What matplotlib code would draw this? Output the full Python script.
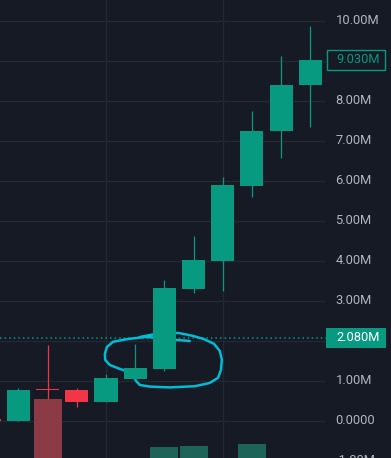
import matplotlib
matplotlib.use("Agg")
import matplotlib.pyplot as plt
from matplotlib.patches import Rectangle
from matplotlib.transforms import blended_transform_factory

# candle data, prices in millions (first one is cut off at the left edge)
idx = [-1, 0, 1, 2, 3, 4, 5, 6, 7, 8, 9, 10]
opens = [0.04, 0.0, 0.78, 0.775, 0.475, 1.05, 1.30, 3.30, 4.00, 5.875, 7.25, 8.39]
highs = [0.06, 0.825, 1.90, 0.83, 1.175, 1.925, 3.525, 4.625, 6.10, 7.75, 9.125, 9.875]
lows = [-0.02, 0.0, 0.30, 0.36, 0.475, 1.05, 1.25, 3.20, 3.25, 5.61, 6.58, 7.36]
closes = [0.0, 0.775, 0.765, 0.475, 1.075, 1.325, 3.325, 4.025, 5.90, 7.25, 8.40, 9.03]
volumes = [2.0, 2.5, 9.9, 1.5, 3.0, 2.0, 5.1, 5.2, 3.5, 5.4, 3.8, 3.0]

tick_vals = [-1, 0, 1, 2, 3, 4, 5, 6, 7, 8, 9, 10]
tick_labels = ["-1.00M", "0.0000", "1.00M", "2.00M", "3.00M", "4.00M", "5.00M",
               "6.00M", "7.00M", "8.00M", "9.00M", "10.00M"]
last_price = 9.03
last_label = "9.030M"
line_price = 2.08
line_label = "2.080M"

# freehand brush drawing, (bar index, price)
brush_x = [5.87, 5.36, 4.85, 4.33, 3.75, 3.24, 3.03, 2.96, 2.97, 3.13, 3.41, 3.68,
           3.92, 4.03, 4.16, 4.51, 5.19, 6.05, 6.55, 6.84, 6.94, 6.97, 6.90, 6.70,
           6.35, 5.97, 5.49, 4.92, 4.51, 4.16]
brush_y = [2.00, 2.03, 2.08, 2.10, 2.05, 1.98, 1.85, 1.68, 1.53, 1.40, 1.32, 1.25,
           1.15, 1.00, 0.90, 0.86, 0.84, 0.87, 0.95, 1.08, 1.28, 1.53, 1.75, 1.93,
           2.05, 2.13, 2.20, 2.20, 2.15, 2.10]

bg = "#161a25"
grid = "#242833"
up = "#089981"
down = "#f23645"
up_vol = "#1d6358"
down_vol = "#8b3a46"
txt = "#b2b5be"
brush = "#00bcd4"

W, H = 391, 458
fig = plt.figure(figsize=(W / 100, H / 100), dpi=100)
fig.patch.set_facecolor(bg)

ax = fig.add_axes([0, 0, 326 / W, 1])
ax.set_facecolor(bg)
ax.set_xlim(-0.634, 10.54)
ax.set_ylim(-0.925, 10.525)
for s in ax.spines.values():
    s.set_visible(False)
ax.set_xticks([])
ax.set_yticks([])

for v in tick_vals:
    ax.axhline(v, color=grid, lw=1, zorder=0)
for xv in [-1, 3, 7, 11]:
    ax.axvline(xv, color=grid, lw=1, zorder=0)

ax.axhline(line_price, color=up, lw=1.1, ls=(0, (1, 2)), zorder=1)

ax.plot(brush_x, brush_y, color=brush, lw=1.8, solid_capstyle="round",
        solid_joinstyle="round", zorder=2)

colors = []
bottoms = []
heights = []
for o, c in zip(opens, closes):
    colors.append(up if c >= o else down)
    bottoms.append(min(o, c))
    heights.append(max(abs(c - o), 0.025))

ax.vlines(idx, lows, highs, colors=colors, lw=0.9, zorder=3)
ax.bar(idx, heights, bottom=bottoms, width=0.79, color=colors, zorder=4)

# volume pane, its base sits below the visible area
vax = fig.add_axes([0, -40 / H, 326 / W, 200 / H])
vax.patch.set_alpha(0)
vax.set_xlim(ax.get_xlim())
vax.set_ylim(0, 20)
vax.axis("off")
vcolors = [up_vol if c >= o else down_vol for o, c in zip(opens, closes)]
vax.bar(idx, volumes, width=0.96, color=vcolors, zorder=5)

# price scale, labels under the two price boxes are hidden
tr = blended_transform_factory(ax.transAxes, ax.transData)
for v, lab in zip(tick_vals, tick_labels):
    if abs(v - last_price) < 0.4 or abs(v - line_price) < 0.4:
        continue
    ax.text(1.029, v, lab, transform=tr, color=txt, fontsize=9.3,
            family="Roboto", ha="left", va="center", clip_on=False)

ax.add_patch(Rectangle((1.003, last_price - 0.25), 0.178, 0.5, transform=tr,
                       facecolor=bg, edgecolor=up, lw=1, clip_on=False, zorder=6))
ax.text(1.031, last_price, last_label, transform=tr, color=up, fontsize=9.3,
        family="Roboto", ha="left", va="center", clip_on=False, zorder=7)

ax.add_patch(Rectangle((1.0, line_price - 0.25), 0.183, 0.5, transform=tr,
                       facecolor=up, edgecolor=up, lw=0, clip_on=False, zorder=6))
ax.text(1.031, line_price, line_label, transform=tr, color="white", fontsize=9.3,
        family="Roboto", ha="left", va="center", clip_on=False, zorder=7)

fig.savefig("out.png", dpi=100, facecolor=bg)
